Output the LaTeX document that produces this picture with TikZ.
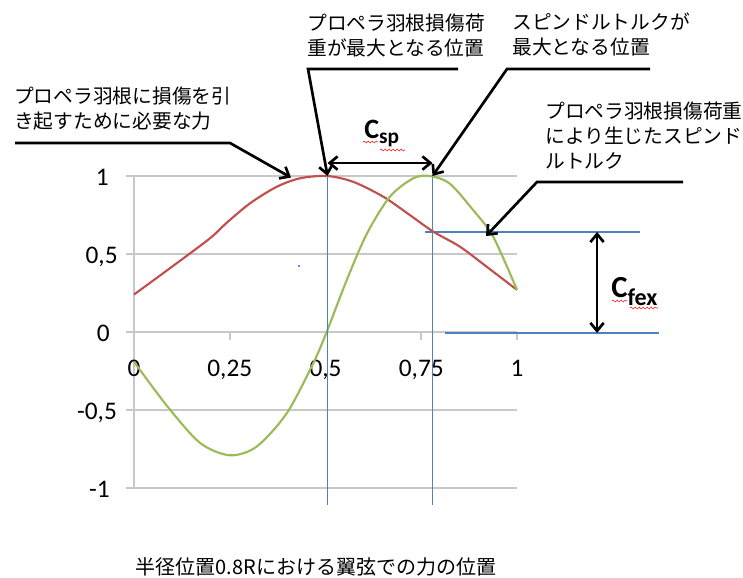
\documentclass[tikz,border=0pt]{standalone}
\usepackage{fontspec}
\setsansfont{Carlito}
\newfontfamily\jp{Noto Sans CJK JP}
\usetikzlibrary{arrows.meta,decorations.pathmorphing}
\definecolor{exred}{RGB}{192,80,77}
\definecolor{exgreen}{RGB}{155,187,89}
\definecolor{exblue}{RGB}{79,129,189}
\definecolor{gridgray}{RGB}{200,200,200}

\begin{document}
\begin{tikzpicture}[x=0.75pt,y=-0.75pt,
    grid/.style={draw=gridgray,line width=1.4pt},
    bline/.style={draw=exblue,line width=1.1pt},
    callout/.style={line width=2pt,-{Straight Barb[length=6pt,width=10pt]}},
    twoway/.style={line width=2pt,{Straight Barb[length=6pt,width=10pt]}-{Straight Barb[length=6pt,width=10pt]}},
    lbl/.style={font=\jp\fontsize{14.8}{18.75}\selectfont,align=left,anchor=north west,inner sep=0pt},
    ticklbl/.style={font=\sffamily\fontsize{19}{19}\selectfont,inner sep=0pt},
    squig/.style={draw=red!85,line width=0.5pt,decorate,decoration={snake,amplitude=0.7pt,segment length=3pt}}]
    \useasboundingbox (0,0) rectangle (743,578);

\begin{scope}[shift={(134,332)},x=287.25pt,y=117pt]
    % grid and axes
    \foreach \y in {-1,-0.5,0,0.5,1}
        \draw[grid] (-0.021,\y) -- (1,\y);
    \draw[grid] (0,-1) -- (0,1);
    \foreach \x in {0.25,0.75,1}
        \draw[grid] (\x,0) -- (\x,-0.05);

    \foreach \x/\t [count=\i] in {0/0,0.25/{0,25},0.5/{0,5},0.75/{0,75},1/1}
        \node[ticklbl,anchor=base] (xl\i) at (\x,-0.286) {\t};
    \foreach \y/\t/\p [count=\i] in {1/1/-0.065,0.5/{0,5}/-0.042,0/0/-0.063,-0.5/{-0,5}/-0.044,-1/-1/-0.063}
        \node[ticklbl,anchor=base east] (yl\i) at (\p,\y-0.058) {\t};

    \coordinate (r1) at (0.41,0.99);
    \coordinate (peakR) at (0.5053,1);
    \coordinate (peakG) at (0.7794,1);
    \coordinate (gpt) at (0.919,0.615);
    \coordinate (footR) at (0.5053,-1.109);
    \coordinate (footG) at (0.7794,-1.109);

    % marker lines
    \draw[bline] (peakG) -- (footG);
    \draw[bline] (0.76,0.641) -- (1.321,0.641);
    \draw[bline] (0.812,-0.006) -- (1.371,-0.006);

    % curves
    \draw[exred,line width=1.6pt] plot[smooth,tension=0.5] coordinates {
        (0,0.24) (0.1,0.42) (0.198,0.6) (0.242,0.70) (0.303,0.825) (0.372,0.93)
        (0.433,0.985) (0.504,1) (0.572,0.963) (0.651,0.867) (0.72,0.75)
        (0.781,0.644) (0.851,0.547) (0.92,0.42) (1,0.27)};
    \draw[exgreen,line width=1.6pt] plot[smooth,tension=0.5] coordinates {
        (0,-0.19) (0.085,-0.47) (0.172,-0.71) (0.25,-0.79) (0.32,-0.735)
        (0.399,-0.52) (0.468,-0.2) (0.503,0.0) (0.555,0.33) (0.608,0.63)
        (0.668,0.867) (0.729,0.985) (0.773,1) (0.825,0.95) (0.886,0.78)
        (0.938,0.61) (1,0.27)};
    \draw[exblue,line width=1.1pt] (peakR) -- (footR);

    \draw[twoway] (peakR) ++(0,0.083) -- (0.7794,1.083);
    \draw[twoway] (1.209,0.641) -- (1.209,-0.006);
\end{scope}

    \fill[blue!70] (299,266) circle (0.8pt);

    % labels
    \node[lbl] (t1) at (14,87) {プロペラ羽根に損傷を引\\き起すために必要な力};
    \node[lbl] (t2) at (307,14) {プロペラ羽根損傷荷\\重が最大となる位置};
    \node[lbl] (t3) at (512,13) {スピンドルトルクが\\最大となる位置};
    \node[lbl] (t4) at (545,102) {プロペラ羽根損傷荷重\\により生じたスピンド\\ルトルク};

    \coordinate (e1) at (15,143);  \coordinate (k1) at (230,143);
    \coordinate (e2) at (458,69);  \coordinate (k2) at (308,69);
    \coordinate (e3) at (650,69);  \coordinate (k3) at (507,69);
    \coordinate (e4) at (683,182); \coordinate (k4) at (537,182);
    \draw[callout] (e1) -- (k1) -- (r1);
    \draw[callout] (e2) -- (k2) -- (peakR);
    \draw[callout] (e3) -- (k3) -- (peakG);
    \draw[callout] (e4) -- (k4) -- (gpt);

    \node[font=\sffamily\bfseries\fontsize{21}{21}\selectfont,anchor=base west,inner sep=0pt] (csp) at (364,138)
        {C\raisebox{-3.75pt}{\fontsize{16}{16}\selectfont sp}};
    \node[font=\sffamily\bfseries\fontsize{23}{23}\selectfont,anchor=base west,inner sep=0pt] (cfex) at (611,297)
        {C\raisebox{-6pt}{\fontsize{18}{18}\selectfont fex}};
    \draw[squig] (363,142) -- (378,142);
    \draw[squig] (380,150) -- (405,150);
    \draw[squig] (612,301) -- (627,301);
    \draw[squig] (630,308) -- (658,308);

    \node[font=\jp\fontsize{15}{18}\selectfont,anchor=north,inner sep=0pt] (cap) at (316,557)
        {半径位置0.8Rにおける翼弦での力の位置};
\end{tikzpicture}
\end{document}
